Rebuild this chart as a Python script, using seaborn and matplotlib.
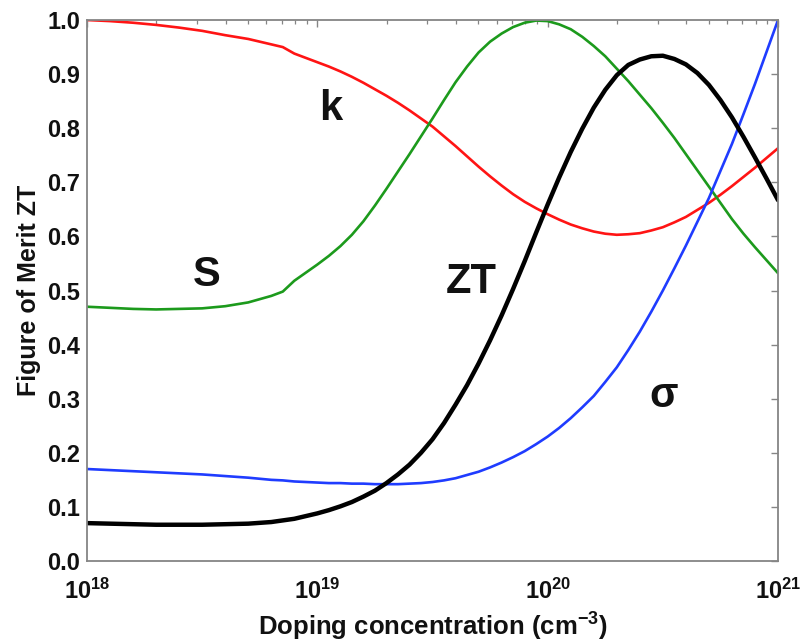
import numpy as np
import pandas as pd
import matplotlib
matplotlib.use("Agg")
import matplotlib.pyplot as plt
import seaborn as sns
from matplotlib.ticker import LogLocator, NullFormatter, FixedLocator

# Doping concentration exponents (cm^-3 = 10**exp)
exponents = [18.0, 18.1, 18.2, 18.3, 18.4, 18.5, 18.6, 18.7, 18.8, 18.85,
             18.9, 18.95, 19.0, 19.05, 19.1, 19.15, 19.2, 19.25, 19.3, 19.35,
             19.4, 19.45, 19.5, 19.55, 19.6, 19.65, 19.7, 19.75, 19.8, 19.85,
             19.9, 19.95, 20.0, 20.05, 20.1, 20.15, 20.2, 20.25, 20.3, 20.35,
             20.4, 20.45, 20.5, 20.55, 20.6, 20.65, 20.7, 20.75, 20.8, 20.85,
             20.9, 20.95, 21.0]

# Normalised thermal conductivity k
k_vals = [1.000, 0.998, 0.995, 0.991, 0.986, 0.980, 0.972, 0.965, 0.955, 0.950,
          0.938, 0.930, 0.922, 0.914, 0.905, 0.895, 0.884, 0.872, 0.860, 0.847,
          0.833, 0.818, 0.803, 0.785, 0.767, 0.748, 0.729, 0.711, 0.694, 0.678,
          0.664, 0.652, 0.641, 0.631, 0.622, 0.615, 0.609, 0.605, 0.603, 0.604,
          0.606, 0.611, 0.617, 0.626, 0.636, 0.649, 0.662, 0.677, 0.693, 0.710,
          0.727, 0.745, 0.763]

# Normalised Seebeck coefficient S
s_vals = [0.470, 0.468, 0.466, 0.465, 0.466, 0.467, 0.471, 0.478, 0.490, 0.498,
          0.518, 0.533, 0.548, 0.564, 0.582, 0.603, 0.628, 0.657, 0.688, 0.720,
          0.752, 0.785, 0.818, 0.852, 0.885, 0.914, 0.940, 0.960, 0.975, 0.987,
          0.995, 0.999, 0.998, 0.992, 0.983, 0.969, 0.952, 0.933, 0.910, 0.887,
          0.862, 0.837, 0.810, 0.782, 0.752, 0.722, 0.692, 0.662, 0.632, 0.605,
          0.580, 0.556, 0.532]

# Normalised electrical conductivity sigma
sigma_vals = [0.170, 0.168, 0.166, 0.164, 0.162, 0.160, 0.157, 0.154, 0.150, 0.149,
              0.147, 0.146, 0.145, 0.144, 0.144, 0.143, 0.143, 0.142, 0.142, 0.142,
              0.143, 0.144, 0.146, 0.149, 0.153, 0.159, 0.165, 0.173, 0.182, 0.192,
              0.203, 0.216, 0.230, 0.246, 0.264, 0.284, 0.305, 0.331, 0.358, 0.390,
              0.424, 0.461, 0.500, 0.541, 0.583, 0.627, 0.671, 0.721, 0.771, 0.826,
              0.882, 0.941, 1.000]

# Normalised figure of merit ZT
zt_vals = [0.070, 0.069, 0.068, 0.067, 0.067, 0.067, 0.068, 0.069, 0.072, 0.075,
           0.078, 0.083, 0.088, 0.094, 0.101, 0.109, 0.119, 0.130, 0.144, 0.160,
           0.178, 0.200, 0.225, 0.255, 0.289, 0.325, 0.365, 0.408, 0.454, 0.503,
           0.554, 0.607, 0.659, 0.709, 0.756, 0.799, 0.838, 0.871, 0.898, 0.917,
           0.927, 0.933, 0.934, 0.928, 0.918, 0.902, 0.880, 0.852, 0.820, 0.784,
           0.746, 0.707, 0.667]

series_names = ["k", "S", "σ", "ZT"]
series_colors = ["#ff1414", "#1c9a1c", "#1f3cff", "#000000"]
series_widths = [1.9, 1.9, 1.9, 3.2]

# Curve annotations: (text, exponent, value)
label_text = ["k", "S", "ZT", "σ"]
label_exp = [19.06, 18.52, 19.67, 20.505]
label_val = [0.835, 0.529, 0.516, 0.305]

x_tick_exps = [18, 19, 20, 21]
y_ticks = [0.0, 0.1, 0.2, 0.3, 0.4, 0.5, 0.6, 0.7, 0.8, 0.9, 1.0]

sns.set_theme(style="white")
plt.rcParams["font.family"] = ["Liberation Sans", "DejaVu Sans"]
plt.rcParams["font.weight"] = "bold"
plt.rcParams["mathtext.fontset"] = "custom"
plt.rcParams["mathtext.rm"] = "Liberation Sans:bold"
plt.rcParams["mathtext.it"] = "Liberation Sans:bold"
plt.rcParams["mathtext.bf"] = "Liberation Sans:bold"
plt.rcParams["mathtext.default"] = "rm"

doping = [10.0 ** e for e in exponents]
df = pd.DataFrame({"doping": doping, "k": k_vals, "S": s_vals,
                   "σ": sigma_vals, "ZT": zt_vals})

fig = plt.figure(figsize=(8.04, 6.44), dpi=100)
ax = fig.add_axes([0.1082, 0.1289, 0.8595, 0.8400])

for name, col, lw in zip(series_names, series_colors, series_widths):
    sns.lineplot(data=df, x="doping", y=name, color=col, linewidth=lw,
                 ax=ax, sort=True, estimator=None)

ax.set_xscale("log")
ax.set_xlim(1e18, 1e21)
ax.set_ylim(0.0, 1.0)

ax.xaxis.set_major_locator(FixedLocator([10.0 ** e for e in x_tick_exps]))
ax.set_xticklabels([r"$10^{%d}$" % e for e in x_tick_exps])
ax.xaxis.set_minor_locator(LogLocator(base=10, subs=np.arange(2, 10)))
ax.xaxis.set_minor_formatter(NullFormatter())
ax.set_yticks(y_ticks)
ax.set_yticklabels(["%.1f" % v for v in y_ticks])

frame_gray = "#858585"
for sp in ax.spines.values():
    sp.set_color(frame_gray)
    sp.set_linewidth(1.3)
ax.tick_params(axis="both", which="both", direction="in", top=True, right=True,
               color=frame_gray, labelcolor="#111111")
ax.tick_params(axis="both", which="major", length=5, width=1.0, labelsize=17)
ax.tick_params(axis="x", which="major", pad=13)
ax.tick_params(axis="y", which="major", pad=5)
ax.tick_params(axis="x", which="minor", length=3, width=0.9)

ax.set_xlabel(r"Doping concentration (cm$^{-3}$)", fontsize=18.5,
              fontweight="bold", color="#111111", labelpad=5)
ax.set_ylabel("Figure of Merit ZT", fontsize=18, fontweight="bold",
              color="#111111", labelpad=4)

for txt, ex, val in zip(label_text, label_exp, label_val):
    ax.text(10.0 ** ex, val, txt, fontsize=30, fontweight="bold",
            color="#111111", ha="center", va="center")

fig.savefig("out.png", dpi=100, facecolor="white")
